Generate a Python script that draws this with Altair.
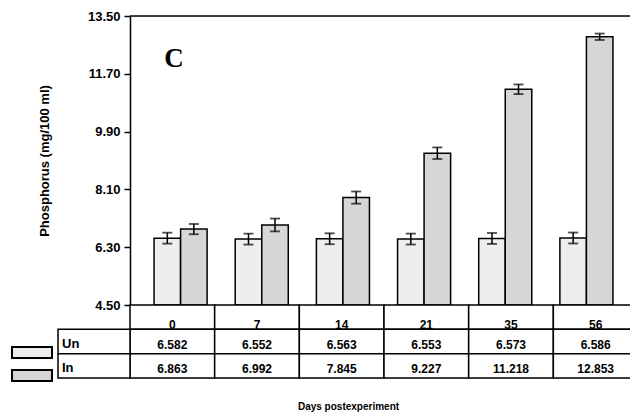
import altair as alt
import pandas as pd

# ---- data ----
days = ["0", "7", "14", "21", "35", "56"]
groups = ["Un", "In"]
un_values = [6.582, 6.552, 6.563, 6.553, 6.573, 6.586]
in_values = [6.863, 6.992, 7.845, 9.227, 11.218, 12.853]
un_err = [0.17, 0.17, 0.17, 0.17, 0.17, 0.17]
in_err = [0.16, 0.20, 0.19, 0.18, 0.15, 0.10]
y_ticks = [4.5, 6.3, 8.1, 9.9, 11.7, 13.5]
panel_label = ["C"]

rows = []
for g, vals, errs in (("Un", un_values, un_err), ("In", in_values, in_err)):
    for d, v, e in zip(days, vals, errs):
        rows.append({"Day": d, "Group": g, "Value": v, "lo": v - e, "hi": v + e,
                     "Label": f"{v:.3f}"})
df = pd.DataFrame(rows)
cells = pd.DataFrame([{"Day": d, "Row": r} for d in days for r in ["day", "Un", "In"]])
heads = pd.DataFrame({"Day": days, "Row": ["day"] * len(days)})
rowlab = pd.DataFrame({"Row": groups})

FONT = "Liberation Sans"
W, H = 500, 362

ybar = alt.Scale(domain=[4.5, 13.5], range=[289, 0], zero=False, nice=False)
xbar = alt.Scale(domain=days, range=[10, 497], paddingInner=0, paddingOuter=0)
xoff = alt.Scale(domain=groups, paddingInner=0, paddingOuter=0.53)
xtab = alt.Scale(domain=days, range=[0, 508], paddingInner=0, paddingOuter=0)
ytab = alt.Scale(domain=["day", "Un", "In"], range=[289, 362], paddingInner=0, paddingOuter=0)
yswatch = alt.Scale(domain=groups, range=[331, 365], paddingInner=0.52, paddingOuter=0)
fills = alt.Scale(domain=groups, range=["#eeeeee", "#d6d6d6"])

base = alt.Chart(df)
xb = alt.X("Day:N", scale=xbar, sort=days, axis=None)
xo = alt.XOffset("Group:N", scale=xoff, sort=groups)

bars = base.mark_bar(stroke="black", strokeWidth=1.5).encode(
    x=xb, xOffset=xo,
    y=alt.Y("Value:Q", scale=ybar,
            axis=alt.Axis(values=y_ticks, format=".2f", grid=False,
                          title="Phosphorus (mg/100 ml)",
                          labelFont=FONT, labelFontWeight="bold", labelFontSize=13,
                          labelColor="black", labelPadding=4,
                          tickSize=6, tickColor="black", tickWidth=1.5,
                          domainColor="black", domainWidth=1.5,
                          titleFont=FONT, titleFontWeight="bold", titleFontSize=13,
                          titleColor="black", titlePadding=36)),
    y2=alt.datum(4.5),
    fill=alt.Fill("Group:N", scale=fills, legend=None),
)
err = base.mark_rule(color="black", strokeWidth=1.5).encode(
    x=xb, xOffset=xo,
    y=alt.Y("lo:Q", scale=ybar, axis=None), y2="hi:Q")
cap_hi = base.mark_tick(color="black", thickness=1.8, size=10).encode(
    x=xb, xOffset=xo, y=alt.Y("hi:Q", scale=ybar, axis=None))
cap_lo = base.mark_tick(color="black", thickness=1.8, size=10).encode(
    x=xb, xOffset=xo, y=alt.Y("lo:Q", scale=ybar, axis=None))
top_rule = alt.Chart(pd.DataFrame({"v": [13.5]})).mark_rule(color="black", strokeWidth=1.6).encode(
    y=alt.Y("v:Q", scale=ybar, axis=None))

letter = alt.Chart(pd.DataFrame({"t": panel_label})).mark_text(
    font="Liberation Serif", fontWeight="bold", fontSize=27, color="black").encode(
    text="t:N", x=alt.value(44), y=alt.value(43))

table = alt.Chart(cells).mark_rect(fill="white", stroke="black", strokeWidth=1.5).encode(
    x=alt.X("Day:N", scale=xtab, sort=days,
            axis=alt.Axis(labels=False, ticks=False, domain=False,
                          title="Days postexperiment", titleFont=FONT,
                          titleFontWeight="bold", titleFontSize=10, titleColor="black",
                          titlePadding=23, titleX=218)),
    y=alt.Y("Row:N", scale=ytab, axis=None))
head_text = alt.Chart(heads).mark_text(font=FONT, fontWeight="bold", fontSize=12,
                                       color="black", dy=8).encode(
    x=alt.X("Day:N", scale=xtab, sort=days, axis=None),
    y=alt.Y("Row:N", scale=ytab, axis=None), text="Day:N")
val_text = base.mark_text(font=FONT, fontWeight="bold", fontSize=12, color="black", dy=3).encode(
    x=alt.X("Day:N", scale=xtab, sort=days, axis=None),
    y=alt.Y("Group:N", scale=ytab, axis=None), text="Label:N")

row_box = alt.Chart(rowlab).mark_rect(fill="white", stroke="black", strokeWidth=1.5).encode(
    x=alt.value(-72), x2=alt.value(0), y=alt.Y("Row:N", scale=ytab, axis=None))
row_text = alt.Chart(rowlab).mark_text(font=FONT, fontWeight="bold", fontSize=13,
                                       color="black", align="left", dy=2).encode(
    x=alt.value(-68), y=alt.Y("Row:N", scale=ytab, axis=None), text="Row:N")
swatch = alt.Chart(rowlab).mark_rect(stroke="black", strokeWidth=2).encode(
    x=alt.value(-118), x2=alt.value(-78),
    y=alt.Y("Row:N", scale=yswatch, axis=None),
    fill=alt.Fill("Row:N", scale=fills, legend=None))

chart = alt.layer(
    bars, err, cap_hi, cap_lo, top_rule, letter,
    table, head_text, val_text, row_box, row_text, swatch,
).resolve_scale(
    x="independent", y="independent", fill="independent", xOffset="independent"
).properties(
    width=W, height=H,
    autosize=alt.AutoSizeParams(type="none"),
    padding={"left": 122, "top": 8, "right": 0, "bottom": 38},
).configure_view(stroke=None).configure(background="white")

chart.save("out.html", embed_options={"renderer": "svg", "actions": False})
